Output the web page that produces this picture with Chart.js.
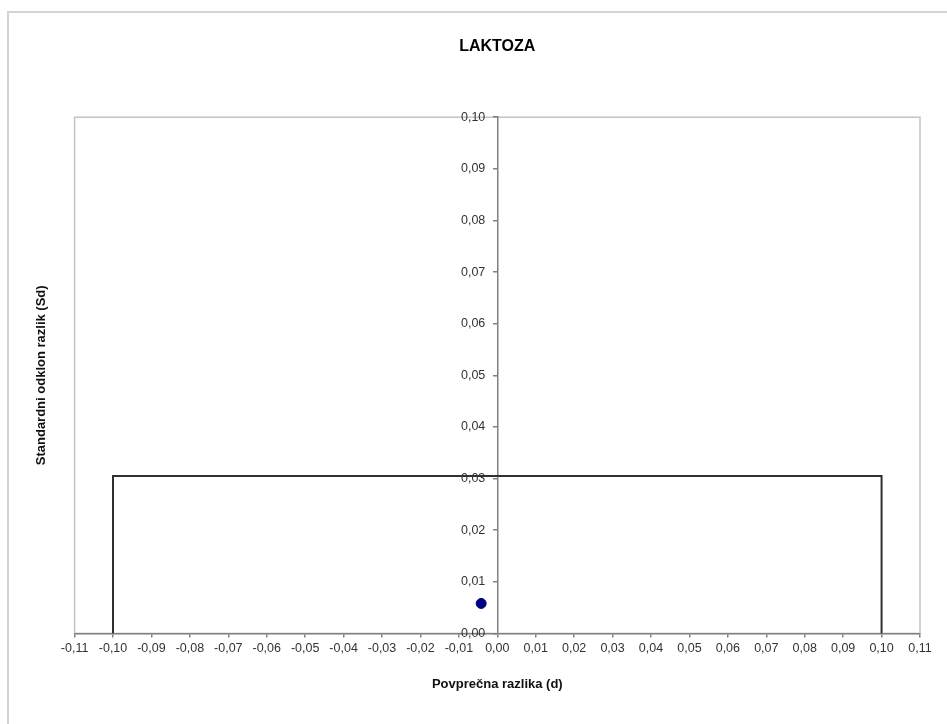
<!DOCTYPE html>
<html>
<head>
<meta charset="utf-8">
<title>LAKTOZA</title>
<script src="https://cdn.jsdelivr.net/npm/chart.js@4.4.1/dist/chart.umd.min.js"></script>
<style>
  html, body { margin: 0; padding: 0; background: #fff; }
  #wrap { width: 947px; height: 724px; }
</style>
</head>
<body>
<div id="wrap"><canvas id="canvas" width="947" height="724"></canvas></div>
<script>
// podatki
var xTicks = [-0.11, -0.10, -0.09, -0.08, -0.07, -0.06, -0.05, -0.04, -0.03, -0.02, -0.01,
              0.00, 0.01, 0.02, 0.03, 0.04, 0.05, 0.06, 0.07, 0.08, 0.09, 0.10, 0.11];
var yTicks = [0.00, 0.01, 0.02, 0.03, 0.04, 0.05, 0.06, 0.07, 0.08, 0.09, 0.10];
var mejaX = [-0.10, -0.10, 0.10, 0.10];
var mejaY = [0.0, 0.0305, 0.0305, 0.0];
var tockaX = [-0.0042];
var tockaY = [0.0058];

var pisava = 'Liberation Sans, Arial, sans-serif';

function vejica (v) {
  return v.toFixed(2).replace('.', ',');
}

function vTocke (xs, ys) {
  var out = [];
  for (var i = 0; i < xs.length; i++) {
    out.push({ x: xs[i], y: ys[i] });
  }
  return out;
}

function yOznake (scale) {
  scale.ticks = yTicks.map(function (v) { return { value: v }; });
}

// okvir slike in okvir grafa
var okvirPlugin = {
  id: 'okvir',
  beforeDraw: function (chart) {
    var ctx = chart.ctx;
    ctx.save();
    ctx.fillStyle = '#ffffff';
    ctx.fillRect(0, 0, chart.width, chart.height);
    ctx.strokeStyle = '#d4d4d4';
    ctx.lineWidth = 2;
    ctx.beginPath();
    ctx.moveTo(8, chart.height);
    ctx.lineTo(8, 12);
    ctx.lineTo(chart.width, 12);
    ctx.stroke();
    var a = chart.chartArea;
    ctx.strokeStyle = '#c4c4c4';
    ctx.lineWidth = 1.5;
    ctx.strokeRect(a.left, a.top, a.right - a.left, a.bottom - a.top);
    ctx.restore();
  }
};

var ctx = document.getElementById('canvas').getContext('2d');
window.myChart = new Chart(ctx, {
  type: 'scatter',
  data: {
    datasets: [{
      label: 'meja',
      data: vTocke(mejaX, mejaY),
      showLine: true,
      fill: false,
      borderColor: '#303030',
      borderWidth: 2,
      pointRadius: 0,
      tension: 0
    }, {
      label: 'razlika',
      data: vTocke(tockaX, tockaY),
      showLine: false,
      backgroundColor: '#00007f',
      borderColor: '#00007f',
      pointRadius: 5,
      pointHoverRadius: 5
    }]
  },
  options: {
    responsive: false,
    animation: false,
    layout: { padding: { left: 0, right: 27, top: 0, bottom: 32 } },
    plugins: {
      legend: { display: false },
      tooltip: { enabled: false },
      title: {
        display: true,
        fullSize: false,
        text: 'LAKTOZA',
        color: '#000',
        font: { family: pisava, size: 16, weight: 'bold' },
        padding: { top: 37, bottom: 61 }
      }
    },
    scales: {
      x: {
        type: 'linear',
        position: 'bottom',
        min: -0.11,
        max: 0.11,
        afterBuildTicks: function (scale) {
          scale.ticks = xTicks.map(function (v) { return { value: v }; });
        },
        grid: { display: true, drawOnChartArea: false, drawTicks: true, tickLength: 4, color: '#808080', lineWidth: 1.5 },
        border: { display: true, color: '#808080', width: 1.5 },
        ticks: {
          padding: 4,
          color: '#333',
          maxRotation: 0,
          autoSkip: false,
          font: { family: pisava, size: 12.5 },
          callback: function (v) { return vejica(v); }
        },
        title: {
          display: true,
          text: 'Povprečna razlika (d)',
          color: '#111',
          font: { family: pisava, size: 13, weight: 'bold' },
          padding: { top: 16, bottom: 0 }
        }
      },
      y: {
        type: 'linear',
        position: 'center',
        min: 0,
        max: 0.10,
        afterBuildTicks: yOznake,
        grid: { display: true, drawOnChartArea: false, drawTicks: true, tickLength: 9, tickColor: 'rgba(0,0,0,0)' },
        border: { display: true, color: '#808080', width: 1.5 },
        ticks: {
          color: '#333',
          autoSkip: false,
          font: { family: pisava, size: 12.5 },
          callback: function (v) { return vejica(v); }
        }
      },
      yCrta: {
        type: 'linear',
        position: 'center',
        min: 0,
        max: 0.10,
        afterBuildTicks: yOznake,
        grid: { display: true, drawOnChartArea: false, drawTicks: true, tickLength: 4, tickColor: '#808080', lineWidth: 1.5 },
        border: { display: false },
        ticks: { display: false }
      },
      yNaslov: {
        type: 'linear',
        position: 'left',
        min: 0,
        max: 0.10,
        grid: { display: false, drawTicks: false },
        border: { display: false },
        ticks: { display: false },
        title: {
          display: true,
          text: 'Standardni odklon razlik (Sd)',
          color: '#111',
          font: { family: pisava, size: 13, weight: 'bold' },
          padding: { top: 34, bottom: 25 }
        }
      }
    }
  },
  plugins: [okvirPlugin]
});
</script>
</body>
</html>
